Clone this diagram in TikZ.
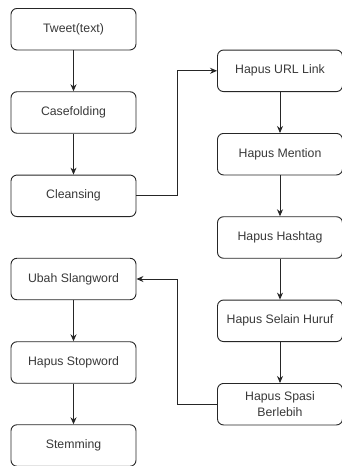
\documentclass[tikz,border=0pt]{standalone}
\usepackage{fontspec}
\setmainfont{Liberation Sans}
\usetikzlibrary{arrows.meta}
\begin{document}
\begin{tikzpicture}[x=1pt,y=-1pt,
  box/.style={draw=black!85,line width=0.9pt,rounded corners=6pt,minimum width=125pt,minimum height=41.5pt,inner sep=1pt,align=center,font=\fontsize{12.3}{16}\selectfont,text=black!78},
  arr/.style={draw=black!85,line width=0.9pt,-{Stealth[length=7pt,width=6pt]}}]
\useasboundingbox (0,0) rectangle (341,466);
\node[box] (tweet) at (73.5,29.2) {Tweet(text)};
\node[box] (case) at (73.5,112.5) {Casefolding};
\node[box] (clean) at (73.5,195.8) {Cleansing};
\node[box] (slang) at (73.5,279) {Ubah Slangword};
\node[box] (stop) at (73.5,362.5) {Hapus Stopword};
\node[box] (stem) at (73.5,445.5) {Stemming};
\node[box] (url) at (280,70.8) {Hapus URL Link};
\node[box] (mention) at (280,154.2) {Hapus Mention};
\node[box] (hash) at (280,237.5) {Hapus Hashtag};
\node[box] (selain) at (280,320.8) {Hapus Selain Huruf};
\node[box] (spasi) at (280,404.2) {Hapus Spasi\\Berlebih};
\coordinate (c1) at (177,195.8);
\coordinate (c2) at (177,70.8);
\coordinate (c3) at (177,404.2);
\coordinate (c4) at (177,279);
\draw[arr] (tweet) -- (case);
\draw[arr] (case) -- (clean);
\draw[arr] (slang) -- (stop);
\draw[arr] (stop) -- (stem);
\draw[arr] (url) -- (mention);
\draw[arr] (mention) -- (hash);
\draw[arr] (hash) -- (selain);
\draw[arr] (selain) -- (spasi);
\draw[arr] (clean.east) -- (c1) -- (c2) -- (url.west);
\draw[arr] (spasi.west) -- (c3) -- (c4) -- (slang.east);
\end{tikzpicture}
\end{document}
